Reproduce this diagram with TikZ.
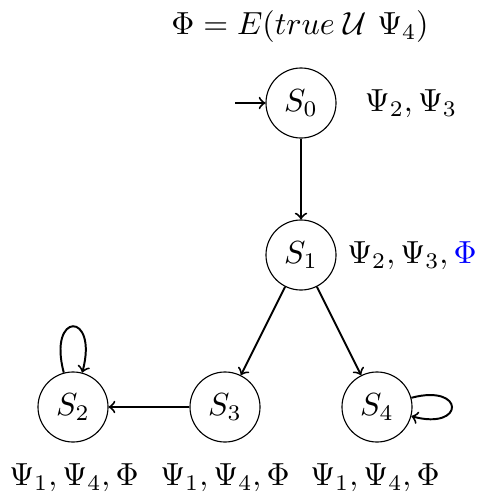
\documentclass[tikz,border=0pt]{standalone}
\usepackage{fix-cm}
\usetikzlibrary{arrows}
\begin{document}
\begin{tikzpicture}[x=0.357pt,y=-0.357pt,
  every node/.style={font=\fontsize{11.4}{13.7}\selectfont},
  state/.style={circle,draw,line width=0.4pt,minimum size=25pt,inner sep=0pt},
  edgeline/.style={->,line width=0.7pt},
  lbl/.style={inner sep=0pt}]
\useasboundingbox (0,0) rectangle (479,500);
\node[lbl] (title) at (300,27) {$\Phi = E(true\;\mathcal{U}\ \Psi_4)$};
\node[state] (S0) at (301,103) {$S_0$};
\node[state] (S1) at (301,255) {$S_1$};
\node[state] (S2) at (73,407) {$S_2$};
\node[state] (S3) at (225,407) {$S_3$};
\node[state] (S4) at (377,407) {$S_4$};
\coordinate (init) at (235,103);
\node[lbl] (L0) at (411,104) {$\Psi_2, \Psi_3$};
\node[lbl] (L1) at (412,256) {$\Psi_2, \Psi_3, {\color{blue}\Phi}$};
\node[lbl] (L2) at (74,478) {$\Psi_1, \Psi_4, \Phi$};
\node[lbl] (L3) at (225,478) {$\Psi_1, \Psi_4, \Phi$};
\node[lbl] (L4) at (375,478) {$\Psi_1, \Psi_4, \Phi$};
\draw[edgeline] (init) -- (S0);
\draw[edgeline] (S0) -- (S1);
\draw[edgeline] (S1) -- (S3);
\draw[edgeline] (S1) -- (S4);
\draw[edgeline] (S3) -- (S2);
\draw[edgeline] (S2) edge[loop above,min distance=8mm] (S2);
\draw[edgeline] (S4) edge[loop right,min distance=7mm] (S4);
\end{tikzpicture}
\end{document}
